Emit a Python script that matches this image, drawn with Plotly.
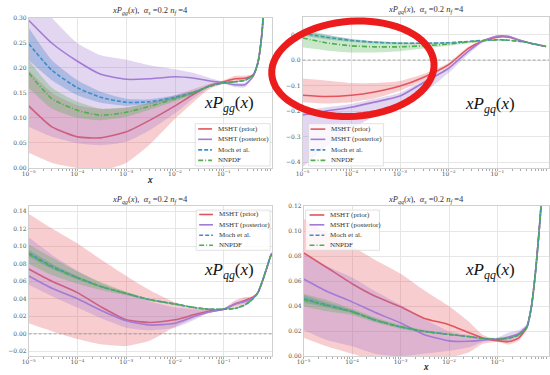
import math
import plotly.graph_objects as go

W, H = 550, 375

# ---------------- data ----------------
X_LEFT = [1e-5, 3e-5, 1e-4, 3e-4, 1e-3, 3e-3, 1e-2, 2.5e-2, 0.05, 0.1, 0.17, 0.27, 0.4, 0.5, 0.6, 0.7, 0.8, 0.9, 0.97]
X_RIGHT = [1e-5, 3e-5, 1e-4, 3e-4, 1e-3, 3e-3, 1e-2, 2.5e-2, 0.05, 0.1, 0.17, 0.27, 0.4, 0.5, 0.6, 0.7, 0.8, 0.9, 1.0]
X_TICKS = [1e-5, 1e-4, 1e-3, 1e-2, 1e-1]
X_TICKTEXT = ["10<sup>−5</sup>", "10<sup>−4</sup>", "10<sup>−3</sup>", "10<sup>−2</sup>", "10<sup>−1</sup>"]

SERIES = ["MSHT (prior)", "MSHT (posterior)", "Moch et al.", "NNPDF"]

# xP_gg (top left)
GG_RED = [0.124, 0.082, 0.062, 0.060, 0.072, 0.095, 0.124, 0.148, 0.164, 0.172, 0.178, 0.179, 0.186, 0.210, 0.265, 0.370, 0.600, 1.300, 3.000]
GG_RED_LO = [0.030, 0.010, 0.000, -0.005, 0.010, 0.046, 0.098, 0.133, 0.157, 0.168, 0.172, 0.174, 0.184, 0.208, 0.263, 0.368, 0.598, 1.298, 2.998]
GG_RED_HI = [0.195, 0.150, 0.125, 0.118, 0.120, 0.130, 0.145, 0.158, 0.168, 0.175, 0.184, 0.184, 0.188, 0.212, 0.267, 0.372, 0.602, 1.302, 3.002]
GG_PUR = [0.295, 0.249, 0.213, 0.187, 0.177, 0.178, 0.182, 0.179, 0.174, 0.170, 0.166, 0.166, 0.183, 0.210, 0.265, 0.370, 0.600, 1.300, 3.000]
GG_PUR_LO = [0.082, 0.062, 0.049, 0.045, 0.052, 0.075, 0.109, 0.140, 0.160, 0.168, 0.161, 0.161, 0.181, 0.208, 0.263, 0.368, 0.598, 1.298, 2.998]
GG_PUR_HI = [0.360, 0.300, 0.249, 0.225, 0.216, 0.205, 0.197, 0.189, 0.180, 0.172, 0.170, 0.170, 0.185, 0.212, 0.267, 0.372, 0.602, 1.302, 3.002]
GG_BLU = [0.248, 0.195, 0.160, 0.141, 0.131, 0.132, 0.141, 0.151, 0.163, 0.170, 0.172, 0.175, 0.185, 0.210, 0.265, 0.370, 0.600, 1.300, 3.000]
GG_BLU_LO = [0.215, 0.175, 0.145, 0.130, 0.124, 0.127, 0.137, 0.148, 0.162, 0.169, 0.171, 0.174, 0.184, 0.209, 0.264, 0.369, 0.599, 1.299, 2.999]
GG_BLU_HI = [0.280, 0.215, 0.175, 0.152, 0.138, 0.137, 0.145, 0.154, 0.164, 0.171, 0.173, 0.176, 0.186, 0.211, 0.266, 0.371, 0.601, 1.301, 3.001]
GG_GRN = [0.190, 0.138, 0.115, 0.105, 0.111, 0.123, 0.138, 0.151, 0.163, 0.170, 0.172, 0.175, 0.185, 0.210, 0.265, 0.370, 0.600, 1.300, 3.000]
GG_GRN_LO = [0.160, 0.118, 0.100, 0.095, 0.102, 0.116, 0.133, 0.148, 0.162, 0.169, 0.171, 0.174, 0.184, 0.209, 0.264, 0.369, 0.599, 1.299, 2.999]
GG_GRN_HI = [0.215, 0.160, 0.132, 0.118, 0.121, 0.129, 0.142, 0.154, 0.164, 0.171, 0.173, 0.176, 0.186, 0.211, 0.266, 0.371, 0.601, 1.301, 3.001]

# xP_gq (top right)
GQ_RED = [-0.138, -0.143, -0.138, -0.125, -0.102, -0.068, -0.018, 0.045, 0.075, 0.090, 0.090, 0.079, 0.070, 0.065, 0.062, 0.060, 0.057, 0.055, 0.053]
GQ_RED_LO = [-0.165, -0.170, -0.165, -0.150, -0.120, -0.080, -0.025, 0.040, 0.072, 0.089, 0.088, 0.078, 0.069, 0.064, 0.061, 0.059, 0.056, 0.054, 0.052]
GQ_RED_HI = [-0.072, -0.080, -0.090, -0.090, -0.082, -0.055, -0.010, 0.052, 0.079, 0.091, 0.092, 0.080, 0.071, 0.066, 0.063, 0.061, 0.058, 0.056, 0.054]
GQ_PUR = [-0.215, -0.200, -0.185, -0.165, -0.141, -0.089, -0.032, 0.034, 0.075, 0.094, 0.093, 0.080, 0.070, 0.065, 0.062, 0.060, 0.057, 0.055, 0.053]
GQ_PUR_LO = [-0.420, -0.340, -0.270, -0.220, -0.180, -0.130, -0.050, 0.022, 0.069, 0.092, 0.091, 0.079, 0.069, 0.064, 0.061, 0.059, 0.056, 0.054, 0.052]
GQ_PUR_HI = [-0.200, -0.185, -0.172, -0.152, -0.128, -0.080, -0.026, 0.040, 0.078, 0.096, 0.095, 0.081, 0.071, 0.066, 0.063, 0.061, 0.058, 0.056, 0.054]
GQ_BLU = [0.105, 0.090, 0.077, 0.070, 0.066, 0.066, 0.068, 0.073, 0.077, 0.080, 0.078, 0.074, 0.070, 0.065, 0.062, 0.060, 0.057, 0.055, 0.053]
GQ_BLU_LO = [0.095, 0.082, 0.071, 0.065, 0.062, 0.063, 0.066, 0.072, 0.076, 0.079, 0.077, 0.073, 0.069, 0.064, 0.061, 0.059, 0.056, 0.054, 0.052]
GQ_BLU_HI = [0.115, 0.098, 0.083, 0.075, 0.070, 0.069, 0.070, 0.074, 0.078, 0.081, 0.079, 0.075, 0.071, 0.066, 0.063, 0.061, 0.058, 0.056, 0.054]
GQ_GRN = [0.087, 0.068, 0.056, 0.052, 0.052, 0.056, 0.063, 0.071, 0.076, 0.079, 0.078, 0.074, 0.070, 0.065, 0.062, 0.060, 0.057, 0.055, 0.053]
GQ_GRN_LO = [0.050, 0.038, 0.030, 0.030, 0.035, 0.045, 0.056, 0.067, 0.074, 0.078, 0.077, 0.073, 0.069, 0.064, 0.061, 0.059, 0.056, 0.054, 0.052]
GQ_GRN_HI = [0.125, 0.100, 0.082, 0.074, 0.070, 0.068, 0.070, 0.075, 0.078, 0.080, 0.079, 0.075, 0.071, 0.066, 0.063, 0.061, 0.058, 0.056, 0.054]

# xP_qg (bottom left)
QG_RED = [0.074, 0.060, 0.047, 0.031, 0.016, 0.013, 0.016, 0.022, 0.026, 0.028, 0.034, 0.038, 0.042, 0.047, 0.058, 0.069, 0.079, 0.088, 0.092]
QG_RED_LO = [0.012, 0.003, -0.006, -0.012, -0.014, -0.008, 0.008, 0.018, 0.024, 0.027, 0.030, 0.034, 0.041, 0.046, 0.057, 0.068, 0.078, 0.087, 0.091]
QG_RED_HI = [0.137, 0.120, 0.103, 0.085, 0.066, 0.050, 0.036, 0.030, 0.029, 0.029, 0.038, 0.042, 0.043, 0.048, 0.059, 0.070, 0.080, 0.089, 0.093]
QG_PUR = [0.066, 0.052, 0.040, 0.027, 0.015, 0.010, 0.012, 0.020, 0.025, 0.028, 0.034, 0.037, 0.041, 0.047, 0.058, 0.069, 0.079, 0.088, 0.092]
QG_PUR_LO = [0.056, 0.043, 0.030, 0.018, 0.007, 0.004, 0.007, 0.016, 0.024, 0.027, 0.032, 0.035, 0.040, 0.046, 0.057, 0.068, 0.078, 0.087, 0.091]
QG_PUR_HI = [0.110, 0.090, 0.072, 0.058, 0.047, 0.037, 0.030, 0.028, 0.028, 0.029, 0.036, 0.039, 0.042, 0.048, 0.059, 0.070, 0.080, 0.089, 0.093]
QG_BLU = [0.092, 0.077, 0.064, 0.054, 0.046, 0.039, 0.034, 0.030, 0.028, 0.028, 0.029, 0.033, 0.040, 0.047, 0.058, 0.069, 0.079, 0.088, 0.092]
QG_BLU_LO = [0.088, 0.074, 0.062, 0.053, 0.045, 0.038, 0.033, 0.0295, 0.0275, 0.0275, 0.0285, 0.0325, 0.0395, 0.0465, 0.0575, 0.0685, 0.0785, 0.0875, 0.0915]
QG_BLU_HI = [0.096, 0.080, 0.066, 0.055, 0.047, 0.040, 0.035, 0.0305, 0.0285, 0.0285, 0.0295, 0.0335, 0.0405, 0.0475, 0.0585, 0.0695, 0.0795, 0.0885, 0.0925]
QG_GRN = [0.091, 0.076, 0.064, 0.054, 0.046, 0.039, 0.034, 0.030, 0.028, 0.028, 0.029, 0.033, 0.040, 0.047, 0.058, 0.069, 0.079, 0.088, 0.092]
QG_GRN_LO = [0.080, 0.067, 0.057, 0.050, 0.044, 0.038, 0.033, 0.0295, 0.0275, 0.0275, 0.0285, 0.0325, 0.0395, 0.0465, 0.0575, 0.0685, 0.0785, 0.0875, 0.0915]
QG_GRN_HI = [0.102, 0.087, 0.071, 0.059, 0.048, 0.040, 0.035, 0.0305, 0.0285, 0.0285, 0.0295, 0.0335, 0.0405, 0.0475, 0.0585, 0.0695, 0.0795, 0.0885, 0.0925]

# xP_qq (bottom right)
QQ_RED = [0.0827, 0.071, 0.058, 0.048, 0.0396, 0.0305, 0.0253, 0.0190, 0.0145, 0.0125, 0.0118, 0.0145, 0.023, 0.040, 0.066, 0.095, 0.125, 0.200, 0.350]
QQ_RED_LO = [0.0149, 0.008, 0.002, -0.003, -0.005, -0.004, -0.001, 0.003, 0.010, 0.0115, 0.0095, 0.0125, 0.021, 0.038, 0.064, 0.093, 0.123, 0.198, 0.348]
QQ_RED_HI = [0.110, 0.099, 0.088, 0.077, 0.066, 0.053, 0.040, 0.028, 0.017, 0.0135, 0.0160, 0.0190, 0.025, 0.042, 0.068, 0.097, 0.127, 0.202, 0.352]
QQ_PUR = [0.0618, 0.052, 0.0435, 0.035, 0.0266, 0.0175, 0.0123, 0.0120, 0.0130, 0.0140, 0.0155, 0.0180, 0.024, 0.040, 0.066, 0.095, 0.125, 0.200, 0.350]
QQ_PUR_LO = [0.021, 0.013, 0.008, 0.002, 0.000, 0.002, 0.0044, 0.007, 0.0115, 0.013, 0.0125, 0.016, 0.023, 0.039, 0.065, 0.094, 0.124, 0.199, 0.349]
QQ_PUR_HI = [0.082, 0.072, 0.063, 0.052, 0.041, 0.030, 0.020, 0.017, 0.015, 0.015, 0.019, 0.021, 0.025, 0.041, 0.067, 0.096, 0.126, 0.201, 0.351]
QQ_BLU = [0.046, 0.041, 0.0357, 0.029, 0.0235, 0.020, 0.0175, 0.0158, 0.0143, 0.0135, 0.0145, 0.017, 0.023, 0.040, 0.066, 0.095, 0.125, 0.200, 0.350]
QQ_BLU_LO = [0.043, 0.039, 0.0345, 0.028, 0.023, 0.0195, 0.017, 0.0155, 0.0140, 0.0132, 0.0142, 0.0167, 0.0227, 0.0397, 0.0657, 0.0947, 0.1247, 0.1997, 0.3497]
QQ_BLU_HI = [0.049, 0.043, 0.037, 0.030, 0.024, 0.0205, 0.018, 0.0161, 0.0146, 0.0138, 0.0148, 0.0173, 0.0233, 0.0403, 0.0663, 0.0953, 0.1253, 0.2003, 0.3503]
QQ_GRN = [0.0455, 0.0405, 0.0355, 0.029, 0.0235, 0.020, 0.0175, 0.0158, 0.0143, 0.0135, 0.0145, 0.017, 0.023, 0.040, 0.066, 0.095, 0.125, 0.200, 0.350]
QQ_GRN_LO = [0.040, 0.036, 0.033, 0.027, 0.022, 0.019, 0.017, 0.0155, 0.0140, 0.0132, 0.0142, 0.0167, 0.0227, 0.0397, 0.0657, 0.0947, 0.1247, 0.1997, 0.3497]
QQ_GRN_HI = [0.050, 0.045, 0.038, 0.031, 0.025, 0.021, 0.018, 0.0161, 0.0146, 0.0138, 0.0148, 0.0173, 0.0233, 0.0403, 0.0663, 0.0953, 0.1253, 0.2003, 0.3503]

# ---------------- styles ----------------
LINE_COL = ["#e2545d", "#a27bd6", "#3f8ccc", "#4fae4f"]
BAND_COL = ["rgba(232,88,95,0.30)", "rgba(160,118,208,0.30)", "rgba(50,125,195,0.30)", "rgba(75,175,75,0.30)"]
DASHES = ["solid", "solid", "4px,2px", "5px,2px,1px,2px"]
SERIF = "Liberation Serif"
TICKFONT = dict(family="DejaVu Serif", size=6, color="#555")
SMOOTH = 0.55


def px(x):
    return x / W


def py(y):
    return 1 - y / H


fig = go.Figure()

PANELS = [
    ("", X_LEFT, [(GG_RED, GG_RED_LO, GG_RED_HI), (GG_PUR, GG_PUR_LO, GG_PUR_HI), (GG_BLU, GG_BLU_LO, GG_BLU_HI), (GG_GRN, GG_GRN_LO, GG_GRN_HI)],
     (22, 269), (14, 167), [0, 0.30], 0.05, ".2f", "gg", [-5, -0.01]),
    ("2", X_RIGHT, [(GQ_RED, GQ_RED_LO, GQ_RED_HI), (GQ_PUR, GQ_PUR_LO, GQ_PUR_HI), (GQ_BLU, GQ_BLU_LO, GQ_BLU_HI), (GQ_GRN, GQ_GRN_LO, GQ_GRN_HI)],
     (300, 550), (13, 167), [-0.423, 0.17], 0.1, ".1f", "gq", [-5, 0.06]),
    ("3", X_LEFT, [(QG_RED, QG_RED_LO, QG_RED_HI), (QG_PUR, QG_PUR_LO, QG_PUR_HI), (QG_BLU, QG_BLU_LO, QG_BLU_HI), (QG_GRN, QG_GRN_LO, QG_GRN_HI)],
     (22, 269), (206, 359), [-0.0256, 0.1456], 0.02, ".2f", "qg", [-5, -0.01]),
    ("4", X_RIGHT, [(QQ_RED, QQ_RED_LO, QQ_RED_HI), (QQ_PUR, QQ_PUR_LO, QQ_PUR_HI), (QQ_BLU, QQ_BLU_LO, QQ_BLU_HI), (QQ_GRN, QQ_GRN_LO, QQ_GRN_HI)],
     (301, 550), (206, 359), [0, 0.12], 0.02, ".2f", "qq", [-5, 0.06]),
]

LEGENDS = [
    (191, 267, 122, 165, 194, 208, 212, [127.3, 137.9, 148.6, 159.3]),
    (306, 382, 122, 165, 308, 323, 327, [127.5, 137.9, 148.6, 159.3]),
    (192, 267, 210, 251, 195, 209, 213, [214.5, 225.0, 235.6, 245.8]),
    (303, 378, 210, 251, 307, 322, 326, [215.0, 225.0, 235.6, 245.8]),
]

BIGLABEL_POS = [(225, 102), (490, 103), (225, 272), (490, 272)]
XLABEL_Y = [179, 369, 179, 369]

shapes = []
annotations = []
layout_axes = {}

for i, (suf, xs, data, (xa, xb), (ya, yb), yr, dt, fmt, sub, xr) in enumerate(PANELS):
    xref = "x" + suf
    yref = "y" + suf
    for k in range(4):
        c, lo, hi = data[k]
        fig.add_trace(go.Scatter(x=xs, y=lo, xaxis=xref, yaxis=yref, mode="lines",
                                 line=dict(width=0, shape="spline", smoothing=SMOOTH),
                                 showlegend=False, hoverinfo="skip"))
        fig.add_trace(go.Scatter(x=xs, y=hi, xaxis=xref, yaxis=yref, mode="lines",
                                 line=dict(width=0, shape="spline", smoothing=SMOOTH),
                                 fill="tonexty", fillcolor=BAND_COL[k],
                                 showlegend=False, hoverinfo="skip"))
        fig.add_trace(go.Scatter(x=xs, y=c, xaxis=xref, yaxis=yref, mode="lines", name=SERIES[k],
                                 line=dict(width=1.6, color=LINE_COL[k], dash=DASHES[k],
                                           shape="spline", smoothing=SMOOTH),
                                 showlegend=False))

    xkey = "xaxis" + suf
    ykey = "yaxis" + suf
    layout_axes[xkey] = dict(
        type="log", range=xr, domain=[px(xa), px(xb)], anchor=yref,
        tickmode="array", tickvals=X_TICKS, ticktext=X_TICKTEXT,
        showgrid=True, gridcolor="#e6e6e6", gridwidth=0.8,
        showline=True, linecolor="#d0d0d0", linewidth=0.8, mirror=True,
        ticks="", tickfont=TICKFONT, zeroline=False,
        minor=dict(ticks="outside", ticklen=2, tickcolor="#aaaaaa", dtick="D1", showgrid=False),
    )
    layout_axes[ykey] = dict(
        range=yr, domain=[py(yb), py(ya)], anchor=xref,
        dtick=dt, tick0=0, tickformat=fmt,
        showgrid=True, gridcolor="#e6e6e6", gridwidth=0.8,
        showline=True, linecolor="#d0d0d0", linewidth=0.8, mirror=True,
        ticks="", tickfont=TICKFONT, zeroline=False,
    )

    cx = (xa + xb) / 2
    annotations.append(dict(
        x=px(cx), y=py(ya - 7), xref="paper", yref="paper", showarrow=False,
        text=f"<i>xP</i><sub><i>{sub}</i></sub>(<i>x</i>),  <i>α</i><sub><i>s</i></sub> =0.2 <i>n</i><sub><i>f</i></sub> =4",
        font=dict(family=SERIF, size=8.5, color="#333"), xanchor="center", yanchor="middle"))
    annotations.append(dict(
        x=px(cx), y=py(XLABEL_Y[i]), xref="paper", yref="paper", showarrow=False,
        text="<i>x</i>", font=dict(family=SERIF, size=10, color="#333"),
        xanchor="center", yanchor="middle"))
    bx, by = BIGLABEL_POS[i]
    annotations.append(dict(
        x=px(bx), y=py(by), xref="paper", yref="paper", showarrow=False,
        text=f"<i>xP</i><sub><i>{sub}</i></sub>(<i>x</i>)",
        font=dict(family=SERIF, size=17, color="#111"), xanchor="center", yanchor="middle"))

    if yr[0] < 0 < yr[1]:
        shapes.append(dict(type="line", xref=xref + " domain", yref=yref, x0=0, x1=1, y0=0, y1=0,
                           line=dict(color="#9a9a9a", width=0.9, dash="3px,2px"), layer="above"))

    bx0, bx1, by0, by1, sx0, sx1, tx, eys = LEGENDS[i]
    shapes.append(dict(type="rect", xref="paper", yref="paper", x0=px(bx0), x1=px(bx1), y0=py(by1), y1=py(by0),
                       fillcolor="rgba(255,255,255,0.8)", line=dict(color="#d6d6d6", width=0.7), layer="above"))
    for k in range(4):
        shapes.append(dict(type="line", xref="paper", yref="paper", x0=px(sx0), x1=px(sx1), y0=py(eys[k]), y1=py(eys[k]),
                           line=dict(color=LINE_COL[k], width=1.6, dash=DASHES[k]), layer="above"))
        annotations.append(dict(x=px(tx), y=py(eys[k]), xref="paper", yref="paper", showarrow=False,
                                text=SERIES[k], font=dict(family=SERIF, size=7, color="#333"),
                                xanchor="left", yanchor="middle"))

# red hand-drawn ellipse highlight
cxe, cye, ae, be, phi = 351.0, 66.0, 82.5, 48.5, math.radians(-4)
pts = []
for j in range(73):
    t = 2 * math.pi * j / 72
    xx = cxe + ae * math.cos(t) * math.cos(phi) - be * math.sin(t) * math.sin(phi)
    yy = cye + ae * math.cos(t) * math.sin(phi) + be * math.sin(t) * math.cos(phi)
    pts.append((px(xx), py(yy)))
path = "M " + " L ".join(f"{a:.5f},{b:.5f}" for a, b in pts) + " Z"
shapes.append(dict(type="path", xref="paper", yref="paper", path=path,
                   line=dict(color="#ec1c1c", width=7), layer="above"))

fig.update_layout(
    width=W, height=H, margin=dict(l=0, r=0, t=0, b=0),
    paper_bgcolor="white", plot_bgcolor="white",
    showlegend=False, shapes=shapes, annotations=annotations,
    **layout_axes,
)

fig.write_html(
    "out.html",
    config={"displayModeBar": False},
    post_script="document.body.style.margin='0';document.body.style.padding='0';document.body.style.overflow='hidden';",
)
